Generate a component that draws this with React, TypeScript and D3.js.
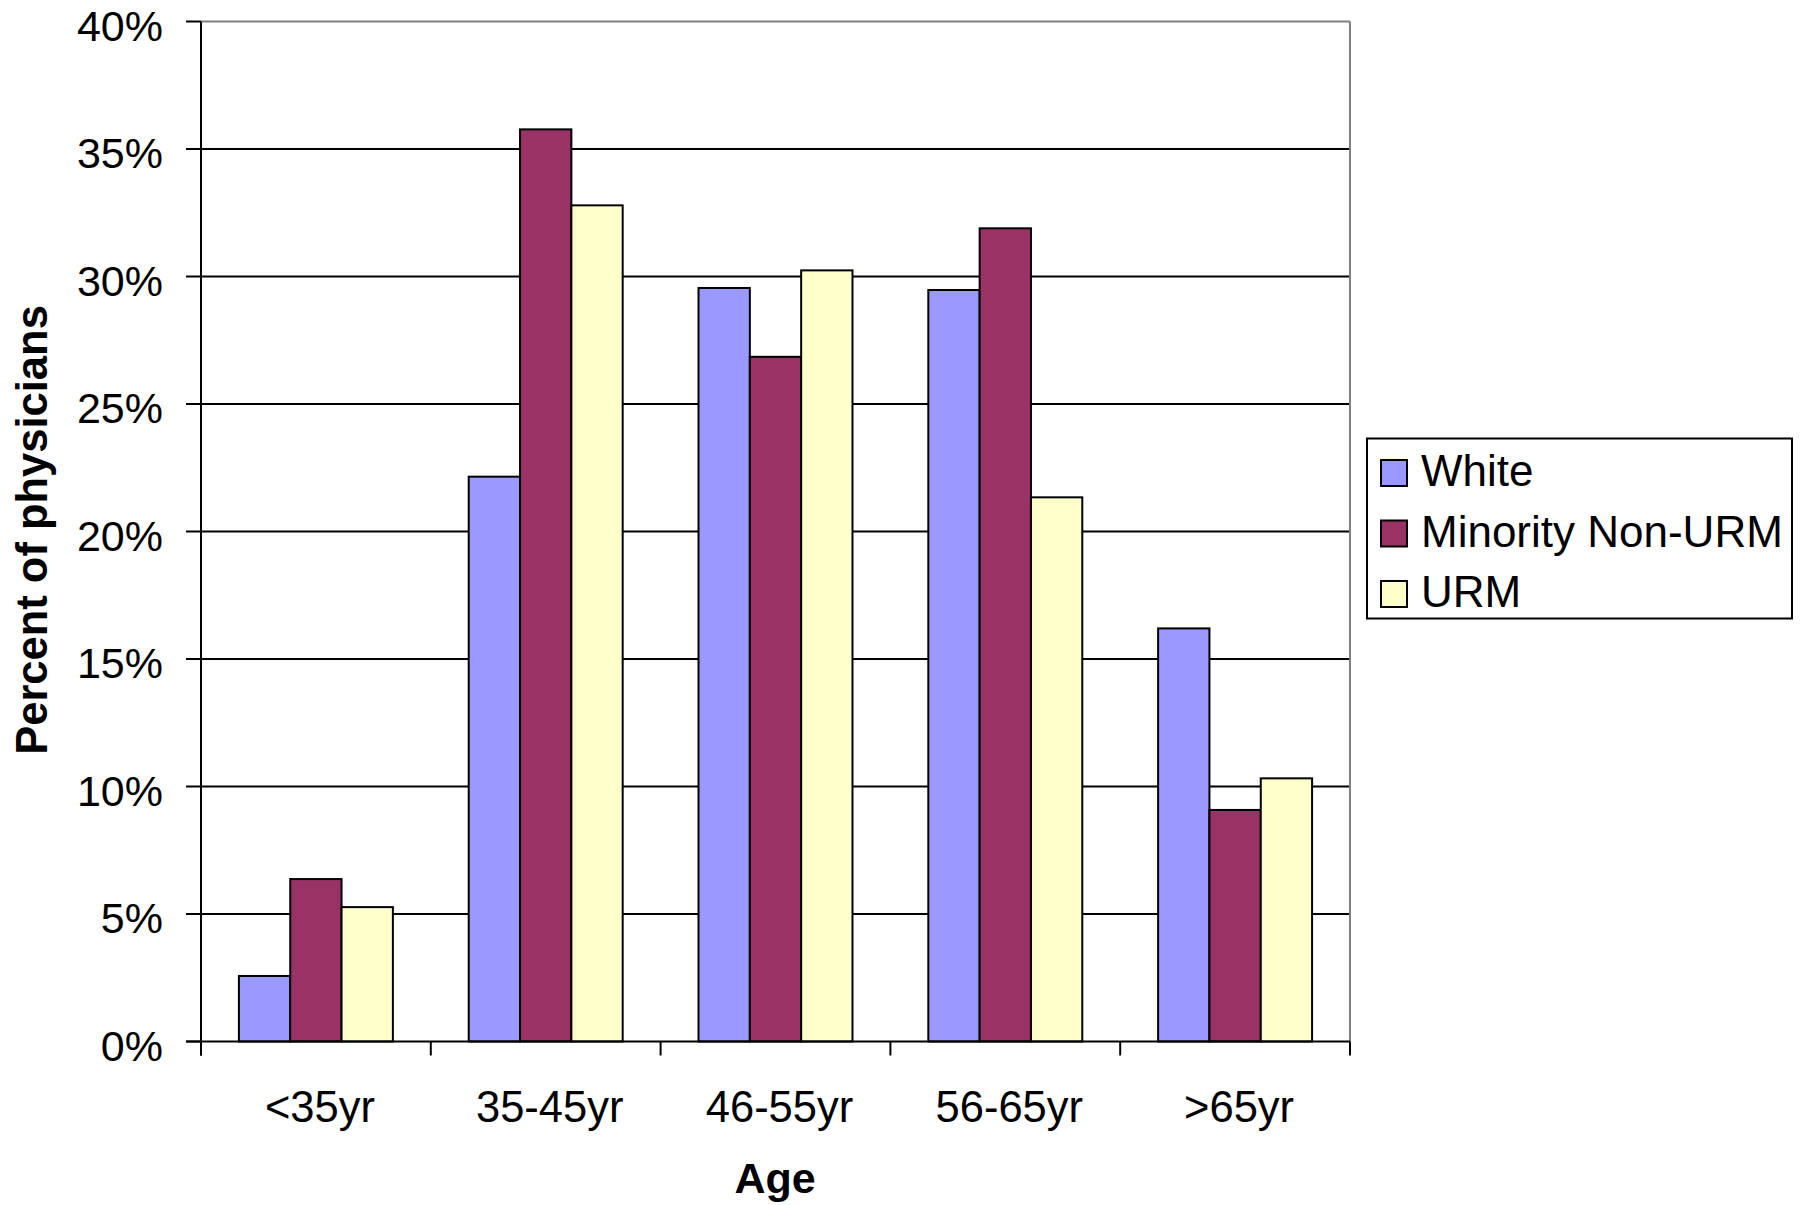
import React from "react";
import * as d3 from "d3";

const categories = ["<35yr", "35-45yr", "46-55yr", "56-65yr", ">65yr"];
const seriesNames = ["White", "Minority Non-URM", "URM"];
const whiteValues = [2.57, 22.15, 29.55, 29.47, 16.2];
const minorityValues = [6.37, 35.77, 26.85, 31.89, 9.08];
const urmValues = [5.27, 32.79, 30.24, 21.34, 10.32];
const seriesColors = ["#9999FF", "#993366", "#FFFFCC"];
const yTicks = [0, 5, 10, 15, 20, 25, 30, 35, 40];

const W = 1804;
const H = 1205;
const FONT = "'Liberation Sans', Arial, Helvetica, sans-serif";

export default function App() {
  const left = 201;
  const right = 1350;
  const top = 21.5;
  const bottom = 1041.5;

  const y = d3.scaleLinear().domain([0, 40]).range([bottom, top]);
  const x = d3.scaleBand<string>().domain(categories).range([left, right]).paddingInner(0.33).paddingOuter(0.165);
  const xs = d3.scaleBand<string>().domain(seriesNames).range([0, x.bandwidth()]);
  const step = (right - left) / categories.length;
  const allSeries = [whiteValues, minorityValues, urmValues];

  const boundaries = d3.range(categories.length + 1).map((i) => left + i * step);

  return (
    <svg
      width={W}
      height={H}
      style={{ position: "absolute", left: 0, top: 0, background: "#fff" }}
      fontFamily={FONT}
    >
      <rect x={0} y={0} width={W} height={H} fill="#fff" />
      {/* gridlines */}
      {yTicks.filter((t) => t > 0 && t < 40).map((t) => (
        <line key={"g" + t} x1={left} x2={right} y1={y(t)} y2={y(t)} stroke="#000" strokeWidth={2} />
      ))}
      {/* plot border top & right */}
      <line x1={left} x2={right} y1={y(40)} y2={y(40)} stroke="#808080" strokeWidth={2} />
      <line x1={right} x2={right} y1={y(40)} y2={bottom} stroke="#808080" strokeWidth={2} />
      {/* bars */}
      {categories.map((c, ci) => (
        <g key={c}>
          {allSeries.map((vals, si) => (
            <rect
              key={si}
              x={(x(c) as number) + (xs(seriesNames[si]) as number)}
              y={y(vals[ci])}
              width={xs.bandwidth()}
              height={bottom - y(vals[ci])}
              fill={seriesColors[si]}
              stroke="#000"
              strokeWidth={2}
            />
          ))}
        </g>
      ))}
      {/* axes */}
      <line x1={left} x2={left} y1={y(40)} y2={bottom + 14} stroke="#000" strokeWidth={2} />
      <line x1={left - 15} x2={right} y1={bottom} y2={bottom} stroke="#000" strokeWidth={2} />
      {yTicks.map((t) => (
        <g key={"t" + t}>
          <line x1={left - 15} x2={left} y1={y(t)} y2={y(t)} stroke="#000" strokeWidth={2} />
          <text x={163} y={y(t) + 19} textAnchor="end" fontSize={43} fill="#000">
            {t + "%"}
          </text>
        </g>
      ))}
      {boundaries.map((bx, i) => (
        <line key={"xt" + i} x1={bx} x2={bx} y1={bottom} y2={bottom + 14} stroke="#000" strokeWidth={2} />
      ))}
      {categories.map((c) => (
        <text
          key={"l" + c}
          x={(x(c) as number) + x.bandwidth() / 2 + 4}
          y={1121.5}
          textAnchor="middle"
          fontSize={43.5}
          fill="#000"
        >
          {c}
        </text>
      ))}
      {/* axis titles */}
      <text x={775} y={1193} textAnchor="middle" fontSize={43} fontWeight="bold" fill="#000">
        Age
      </text>
      <text
        transform={`translate(47, ${530}) rotate(-90)`}
        textAnchor="middle"
        fontSize={43.5}
        fontWeight="bold"
        fill="#000"
      >
        Percent of physicians
      </text>
      {/* legend */}
      <rect x={1367} y={438.5} width={425} height={180} fill="#fff" stroke="#000" strokeWidth={2} />
      {seriesNames.map((s, i) => (
        <g key={"lg" + s}>
          <rect x={1381} y={460 + i * 60.5} width={26} height={26} fill={seriesColors[i]} stroke="#000" strokeWidth={2} />
          <text x={1421} y={486 + i * 60.5} fontSize={44} fill="#000">
            {s}
          </text>
        </g>
      ))}
    </svg>
  );
}
